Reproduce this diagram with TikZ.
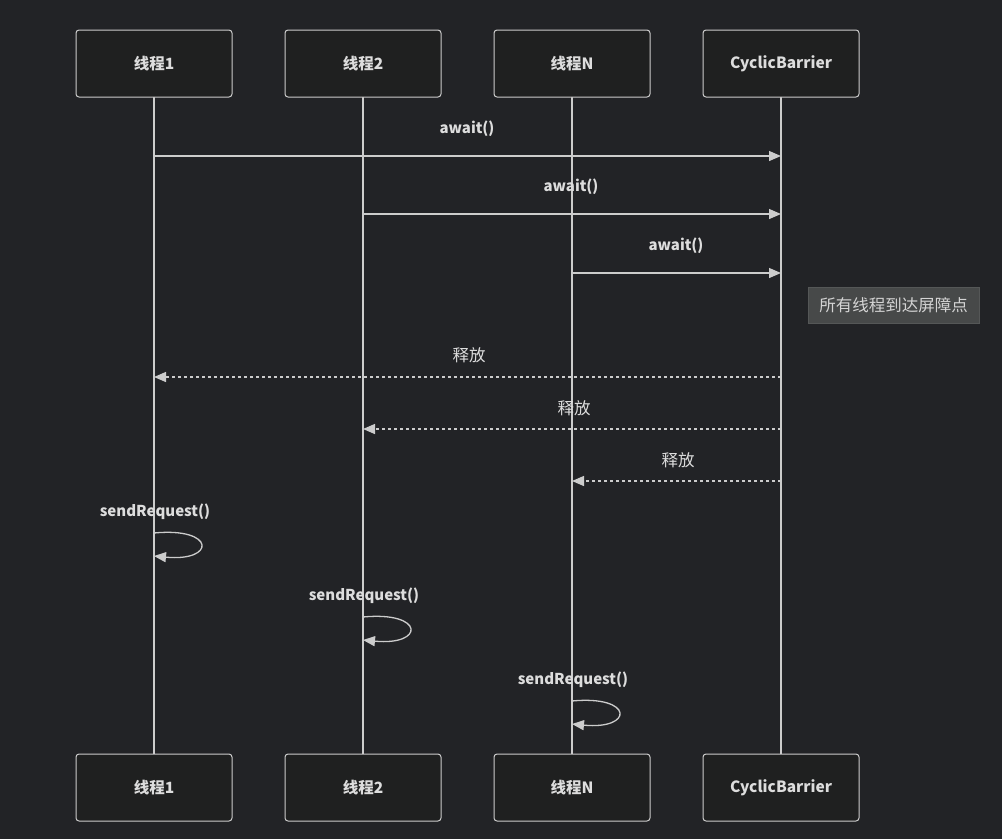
\documentclass[tikz,border=0pt]{standalone}
\usepackage{fontspec}
\setmainfont{Noto Sans CJK SC}
\usetikzlibrary{arrows.meta}
\definecolor{bg}{HTML}{222326}
\definecolor{boxfill}{HTML}{1F2020}
\definecolor{linec}{HTML}{CCCCCC}
\definecolor{textc}{HTML}{DDDDDD}
\definecolor{notefill}{HTML}{474949}
\definecolor{noteborder}{HTML}{555757}
\tikzset{
  actor/.style={draw=linec, fill=boxfill, line width=1pt, rounded corners=3pt,
    minimum width=156pt, minimum height=67pt, inner sep=0pt,
    text=textc, font=\fontsize{15.5}{18}\selectfont\bfseries},
  life/.style={draw=linec, line width=1.6pt},
  msg/.style={draw=linec, line width=1.3pt, -{Triangle[length=12pt,width=10pt]}},
  reply/.style={msg, dash pattern=on 3pt off 3pt},
  lbl/.style={text=textc, font=\fontsize{15}{18}\selectfont\bfseries, inner sep=0pt},
  cjklbl/.style={text=textc, font=\fontsize{16.5}{19}\selectfont, inner sep=0pt},
  note/.style={fill=notefill, draw=noteborder, line width=1pt, minimum width=171pt,
    minimum height=36pt, inner sep=0pt, text=textc!90!gray, font=\fontsize{16.5}{19}\selectfont},
}
\begin{document}
\begin{tikzpicture}[x=1pt,y=-1pt]
\useasboundingbox (0,0) rectangle (1002,839);
\fill[bg] (0,0) rectangle (1002,839);

% lifelines first (behind boxes)
\foreach \x/\n in {154/a,363/b,572/c,781/d}{
  \coordinate (\n top) at (\x,97);
  \coordinate (\n bot) at (\x,754);
}
\draw[life] (atop) -- (abot);
\draw[life] (btop) -- (bbot);
\draw[life] (ctop) -- (cbot);
\draw[life] (dtop) -- (dbot);

\node[actor] (t1) at (154,63.5) {线程1};
\node[actor] (t2) at (363,63.5) {线程2};
\node[actor] (tn) at (572,63.5) {线程N};
\node[actor] (cb) at (781,63.5) {CyclicBarrier};
\node[actor] (t1b) at (154,787.5) {线程1};
\node[actor] (t2b) at (363,787.5) {线程2};
\node[actor] (tnb) at (572,787.5) {线程N};
\node[actor] (cbb) at (781,787.5) {CyclicBarrier};

% await messages
\coordinate (m1s) at (154,156); \coordinate (m1e) at (781,156);
\coordinate (m2s) at (363,214); \coordinate (m2e) at (781,214);
\coordinate (m3s) at (572,273); \coordinate (m3e) at (781,273);
\draw[msg] (m1s) -- (m1e);
\draw[msg] (m2s) -- (m2e);
\draw[msg] (m3s) -- (m3e);
\node[lbl] (l1) at (467,129) {await()};
\node[lbl] (l2) at (571,187) {await()};
\node[lbl] (l3) at (676,246) {await()};

\node[note] (nt) at (893.5,305) {所有线程到达屏障点};

% release messages
\coordinate (r1s) at (781,377); \coordinate (r1e) at (154,377);
\coordinate (r2s) at (781,429); \coordinate (r2e) at (363,429);
\coordinate (r3s) at (781,481); \coordinate (r3e) at (572,481);
\draw[reply] (r1s) -- (r1e);
\draw[reply] (r2s) -- (r2e);
\draw[reply] (r3s) -- (r3e);
\node[cjklbl] (k1) at (469,355) {释放};
\node[cjklbl] (k2) at (574,408) {释放};
\node[cjklbl] (k3) at (678,460) {释放};

% self calls
\foreach \x/\y/\n in {154/533/s1,363/617/s2,572/701/s3}{
  \coordinate (\n a) at (\x,\y);
  \coordinate (\n b) at (\x,\y+23);
}
\draw[msg] (s1a) .. controls (216,527) and (216,562) .. (s1b);
\draw[msg] (s2a) .. controls (425,611) and (425,646) .. (s2b);
\draw[msg] (s3a) .. controls (634,695) and (634,730) .. (s3b);
\node[lbl] (q1) at (155,512) {sendRequest()};
\node[lbl] (q2) at (364,596) {sendRequest()};
\node[lbl] (q3) at (573,680) {sendRequest()};
\end{tikzpicture}
\end{document}
